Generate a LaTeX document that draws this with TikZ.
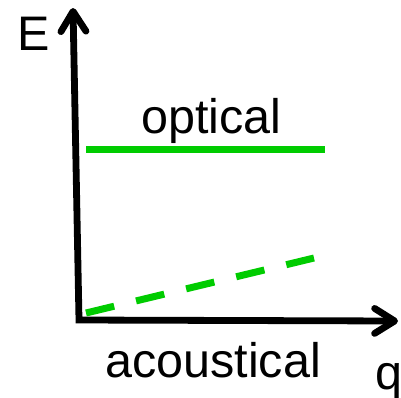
\documentclass[tikz,border=0pt]{standalone}
\usepackage{fontspec}
\setmainfont{Liberation Sans}
\usetikzlibrary{arrows.meta}
\definecolor{phgreen}{RGB}{0,204,0}
\begin{document}
\begin{tikzpicture}[x=1pt,y=-1pt,
  axis/.style={line width=6.8pt, line join=miter,
    {Straight Barb[length=20pt,width=25pt,line cap=round,round]}-{Straight Barb[length=20pt,width=25pt,line cap=round,round]}},
  branch/.style={phgreen, line width=7pt},
  lbl/.style={inner sep=0pt, anchor=base west, font=\fontsize{48.5}{58}\selectfont}]
\useasboundingbox (0,0) rectangle (401,397);
\coordinate (ytip) at (73,8);
\coordinate (origin) at (79,320);
\coordinate (xtip) at (398,321);
\draw[axis] (ytip) -- (origin) -- (xtip);
\coordinate (o1) at (86,149);
\coordinate (o2) at (325,149);
\draw[branch] (o1) -- (o2);
\coordinate (a1) at (86,313);
\coordinate (a2) at (314,258);
\draw[branch, dash pattern=on 29pt off 22.5pt] (a1) -- (a2);
\node[lbl] (E) at (17,50) {E};
\node[lbl] (opt) at (141,133) {optical};
\node[lbl] (aco) at (105,377) {acoustical};
\node[lbl] (q) at (375,389) {q};
\end{tikzpicture}
\end{document}
